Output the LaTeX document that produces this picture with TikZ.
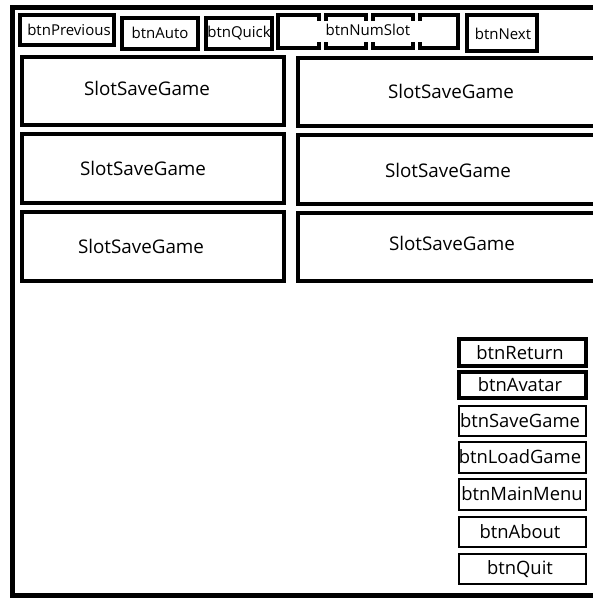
\documentclass[tikz,border=0pt]{standalone}
\usepackage{fontspec}
\setmainfont{Open Sans}
\begin{document}
\begin{tikzpicture}[x=1pt,y=-1pt,
  frame/.style={line width=5pt},
  topbtn/.style={draw,line width=3.2pt},
  slotbox/.style={draw,line width=3.5pt},
  menubtn/.style={draw,line width=2pt},
  menubold/.style={draw,line width=3.8pt},
  small/.style={font=\fontsize{15}{17}\selectfont},
  big/.style={font=\fontsize{18.8}{22}\selectfont},
  mid/.style={font=\fontsize{18.4}{21}\selectfont}]
\useasboundingbox (0,0) rectangle (593,598);
\begin{scope}
\clip (0,0) rectangle (593,598);
% window frame, open on the right
\draw[frame] (605,7) -- (12.5,7) -- (12.5,595) -- (605,595);

% top toolbar
\draw[topbtn] (20,15) rectangle (114,45);
\node[small] (prev) at (69,30) {btnPrevious};
\draw[topbtn] (122,18) rectangle (198,49);
\node[small] (auto) at (160,33) {btnAuto};
\draw[topbtn] (206,18) rectangle (272,49);
\node[small] (quick) at (239,33) {btnQuick};
% slot number strip: four cells sharing one field
\draw[topbtn] (278,15) -- (278,48);
\draw[topbtn] (458,15) -- (458,48);
\foreach \a/\b in {278/319,326/366,373/413,420/458}{
  \draw[topbtn,line cap=butt] (\a,21) -- (\a,15) -- (\b,15) -- (\b,21);
  \draw[topbtn,line cap=butt] (\a,42) -- (\a,48) -- (\b,48) -- (\b,42);
}
\node[small] (numslot) at (368,30) {btnNumSlot};
\draw[topbtn] (467,15) rectangle (537,51);
\node[small] (next) at (503,34) {btnNext};

% save slots
\draw[slotbox] (22,57) rectangle (284,125);
\node[big] (s1) at (147,88) {SlotSaveGame};
\draw[slotbox] (22,134) rectangle (284,203);
\node[big] (s3) at (143,168) {SlotSaveGame};
\draw[slotbox] (22,212) rectangle (284,281);
\node[big] (s5) at (141,246) {SlotSaveGame};
\draw[slotbox] (298,58) rectangle (605,126);
\node[big] (s2) at (451,91) {SlotSaveGame};
\draw[slotbox] (298,135) rectangle (605,204);
\node[big] (s4) at (448,170) {SlotSaveGame};
\draw[slotbox] (298,213) rectangle (605,281);
\node[big] (s6) at (452,243) {SlotSaveGame};

% side menu
\draw[menubold] (459,339) rectangle (586,366);
\node[mid] (ret) at (520,353) {btnReturn};
\draw[menubold] (459,372) rectangle (586,398);
\node[mid] (avatar) at (520,385) {btnAvatar};
\draw[menubtn] (459,406) rectangle (586,436);
\node[mid] (save) at (520,421) {btnSaveGame};
\draw[menubtn] (459,442) rectangle (586,473);
\node[mid] (load) at (520,457) {btnLoadGame};
\draw[menubtn] (459,479) rectangle (586,510);
\node[mid] (mainmenu) at (522,494) {btnMainMenu};
\draw[menubtn] (459,517) rectangle (586,547);
\node[mid] (about) at (520,532) {btnAbout};
\draw[menubtn] (459,554) rectangle (586,584);
\node[mid] (quit) at (520,569) {btnQuit};
\end{scope}
\end{tikzpicture}
\end{document}
